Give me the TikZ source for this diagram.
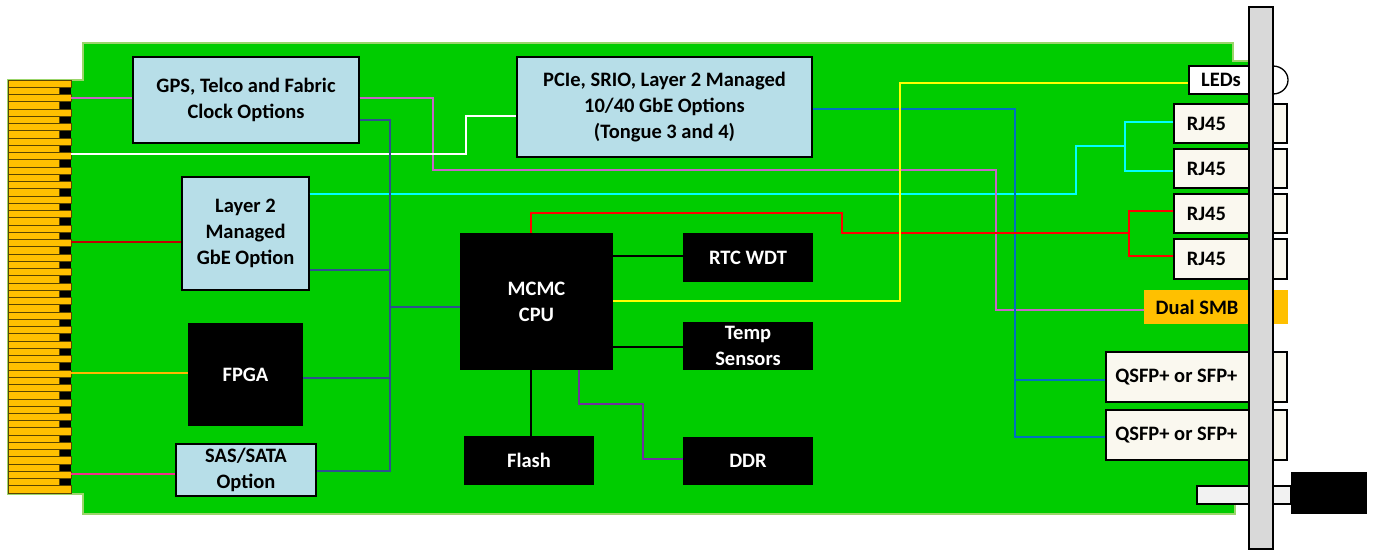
\documentclass[tikz,border=0pt]{standalone}
\usepackage{fontspec}
\setmainfont{Carlito}
\definecolor{boardgreen}{HTML}{00CC00}
\definecolor{boardedge}{HTML}{9BD56B}
\definecolor{lblue}{HTML}{B7DEE8}
\definecolor{gold}{HTML}{FFC000}
\definecolor{goldedge}{HTML}{5A4600}
\definecolor{ivory}{HTML}{FAF8EF}
\definecolor{plate}{HTML}{D9D9D9}
\definecolor{barcol}{HTML}{F2F2F2}
\definecolor{wmag}{HTML}{C864C8}
\definecolor{wnavy}{HTML}{2F4F8F}
\definecolor{wblue}{HTML}{0070C0}
\definecolor{wpurple}{HTML}{7030A0}
\definecolor{wpink}{HTML}{F0308A}
\definecolor{wred}{HTML}{FF0000}
\definecolor{wdred}{HTML}{C00000}
\definecolor{worange}{HTML}{FFB800}
\definecolor{wyellow}{HTML}{FFFF00}
\definecolor{wcyan}{HTML}{00FFFF}
\tikzset{
  txt/.style={font=\bfseries\fontsize{20.5}{26}\selectfont, align=center, inner sep=0pt},
  optbox/.style={draw=black, line width=1.3pt, fill=lblue, txt},
  chip/.style={fill=black, text=white, txt},
  portbox/.style={draw=black, line width=1.3pt, fill=ivory, inner sep=0pt},
  wire/.style={line width=2pt},
  finger/.style={fill=gold, draw=goldedge, line width=0.6pt},
}
\begin{document}
\begin{tikzpicture}[x=1pt, y=-1pt]
\useasboundingbox (0,0) rectangle (1373,550);
% board
\draw[fill=boardgreen, draw=boardedge, line width=1.5pt]
  (83,43) -- (1233,43) -- (1233,61) -- (1255,61) -- (1255,495) -- (1235,495)
  -- (1235,514) -- (83,514) -- (83,494) -- (8,494) -- (8,80) -- (83,80) -- cycle;
% edge connector fingers
\fill[black] (59,80) rectangle (71,493);
\foreach \i in {0,2,...,56} {
  \draw[finger] (8,{80+\i*7.2456}) rectangle (71,{80+(\i+1)*7.2456});
}
\foreach \i in {1,3,...,55} {
  \draw[finger] (8,{80+\i*7.2456}) rectangle (59,{80+(\i+1)*7.2456});
}
\coordinate (fmag) at (71,98);
\coordinate (fwhite) at (71,154);
\coordinate (fred) at (71,242);
\coordinate (forange) at (71,373);
\coordinate (fpink) at (71,474);

% on-board blocks
\node[optbox, minimum width=226pt, minimum height=86pt] (gps) at (246,100) {GPS, Telco and Fabric\\Clock Options};
\node[optbox, minimum width=127pt, minimum height=113pt] (l2) at (245.5,233.5) {Layer 2\\Managed\\GbE Option};
\node[chip, minimum width=115pt, minimum height=103pt] (fpga) at (245.5,374.5) {FPGA};
\node[optbox, minimum width=140pt, minimum height=52pt] (sas) at (246,470) {SAS/SATA\\Option};
\node[optbox, minimum width=295pt, minimum height=100pt] (pcie) at (664.5,107) {PCIe, SRIO, Layer 2 Managed\\10/40 GbE Options\\(Tongue 3 and 4)};
\node[chip, minimum width=153pt, minimum height=137pt] (cpu) at (536.5,301.5) {MCMC\\CPU};
\node[chip, minimum width=130pt, minimum height=49pt] (rtc) at (748,257.5) {RTC WDT};
\node[chip, minimum width=130pt, minimum height=48pt] (temp) at (748,346) {Temp\\Sensors};
\node[chip, minimum width=130pt, minimum height=49pt] (flash) at (529,460.5) {Flash};
\node[chip, minimum width=130pt, minimum height=48pt] (ddr) at (748,461) {DDR};

% front-panel parts
\node[draw=black, line width=1.3pt, fill=white, minimum width=66pt, minimum height=28pt, inner sep=0pt] (leds) at (1222,80) {};
\node[txt] at (1221,80) {LEDs};
\node[portbox, minimum width=113pt, minimum height=39pt] (rj1) at (1230.5,123.5) {};
\node[portbox, minimum width=113pt, minimum height=39pt] (rj2) at (1230.5,168.5) {};
\node[portbox, minimum width=113pt, minimum height=39pt] (rj3) at (1230.5,213.5) {};
\node[portbox, minimum width=113pt, minimum height=40pt] (rj4) at (1230.5,259) {};
\foreach \n in {rj1,rj2,rj3,rj4} { \node[txt] at ([xshift=33pt]\n.west) {RJ45}; }
\node[fill=gold, minimum width=144pt, minimum height=34pt, inner sep=0pt] (smb) at (1216,307) {};
\node[txt] at (1197,307) {Dual SMB};
\node[portbox, minimum width=181pt, minimum height=50pt] (q1) at (1196.5,377) {};
\node[portbox, minimum width=181pt, minimum height=50pt] (q2) at (1196.5,435) {};
\node[txt] at ([xshift=71pt]q1.west) {QSFP+ or SFP+};
\node[txt] at ([xshift=71pt]q2.west) {QSFP+ or SFP+};

% wires
\draw[wire, wcyan] (l2.east |- 0,194) -- (1076,194) -- (1076,146) -- (1125,146);
\draw[wire, wcyan] (rj1.west |- 0,122) -- (1125,122) -- (1125,171) -- (rj2.west |- 0,171);
\draw[wire, wmag] (fmag) -- (gps.west |- fmag);
\draw[wire, wmag] (gps.east |- fmag) -- (433,98) -- (433,170) -- (996,170) -- (996,310) -- (smb.west |- 0,310);
\draw[wire, white] (fwhite) -- (466,154) -- (466,116) -- (pcie.west |- 0,116);
\draw[wire, wdred] (fred) -- (l2.west |- fred);
\draw[wire, worange] (forange) -- (fpga.west |- forange);
\draw[wire, wpink] (fpink) -- (sas.west |- fpink);
\draw[wire, wnavy] (gps.east |- 0,120) -- (390,120) -- (390,471) -- (sas.east |- 0,471);
\draw[wire, wnavy] (l2.east |- 0,270) -- (390,270);
\draw[wire, wnavy] (fpga.east |- 0,378) -- (390,378);
\draw[wire, wnavy] (390,307) -- (cpu.west |- 0,307);
\draw[wire, wblue] (pcie.east |- 0,109) -- (1015,109) -- (1015,437) -- (q2.west |- 0,437);
\draw[wire, wblue] (1015,380) -- (q1.west |- 0,380);
\draw[wire, wred] (cpu.north -| 531,0) -- (531,213) -- (842,213) -- (842,233) -- (1129,233);
\draw[wire, wred] (rj3.west |- 0,211) -- (1129,211) -- (1129,256) -- (rj4.west |- 0,256);
\draw[wire, wyellow] (cpu.east |- 0,301) -- (900,301) -- (900,83) -- (leds.west |- 0,83);
\draw[wire, black] (cpu.east |- 0,256) -- (rtc.west |- 0,256);
\draw[wire, black] (cpu.east |- 0,347) -- (temp.west |- 0,347);
\draw[wire, black] (cpu.south -| 531,0) -- (flash.north -| 531,0);
\draw[wire, wpurple] (cpu.south -| 579,0) -- (579,404) -- (643,404) -- (643,459) -- (ddr.west |- 0,459);

% LED lens, lever bar, faceplate
\draw[fill=white, draw=black, line width=1.3pt] (1273,94) arc[start angle=90, end angle=-90, x radius=15, y radius=14];
\draw[fill=barcol, draw=black, line width=1.3pt] (1197,486) rectangle (1291,504);
\fill[black] (1291,472) rectangle (1367,514);
\draw[fill=plate, draw=black, line width=1.3pt] (1249,7) rectangle (1273,549);
\end{tikzpicture}
\end{document}
